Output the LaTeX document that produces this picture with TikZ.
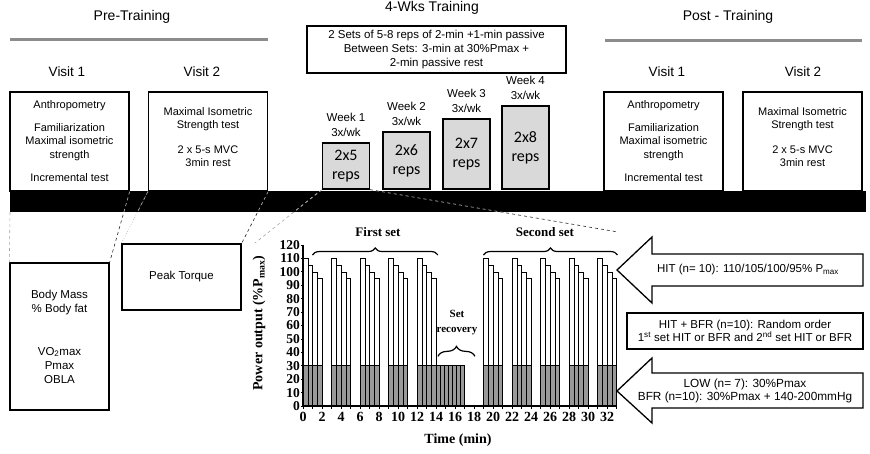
\documentclass[tikz,border=0pt]{standalone}
\usepackage{fontspec}
\setmainfont{Liberation Sans}
\newfontfamily\chartfont{Liberation Serif}
\newfontfamily\weekfont{Carlito}
\usetikzlibrary{decorations.pathreplacing}

\tikzset{
  visitbox/.style={draw, line width=1.3pt, minimum width=119pt, minimum height=99pt,
    align=center, inner sep=0pt, font=\fontsize{11}{13.5}\selectfont},
  weekbox/.style={draw, line width=1.3pt, fill=black!15, minimum width=47pt,
    align=center, inner sep=0pt, font=\weekfont\fontsize{16}{19}\selectfont},
  weeklabel/.style={align=center, font=\fontsize{11.5}{14.5}\selectfont},
  phase/.style={font=\fontsize{14}{16}\selectfont},
  visit/.style={font=\fontsize{13.5}{16}\selectfont},
  phaseline/.style={draw=black!45, line width=3pt},
  zoomdark/.style={dashed, line width=0.6pt, black!85},
  zoomlight/.style={dashed, line width=0.6pt, black!35},
  topbar/.style={draw=black, line width=0.5pt, fill=white},
  lowbar/.style={draw=black, line width=0.5pt, fill=black!40},
  axislabel/.style={font=\chartfont\bfseries\fontsize{14}{15}\selectfont},
  ticklabel/.style={font=\chartfont\bfseries\fontsize{13.5}{13.5}\selectfont, inner sep=1pt},
  setbrace/.style={decorate, decoration={brace, amplitude=#1}, line width=1.2pt},
  armtext/.style={align=center, font=\fontsize{11.5}{13}\selectfont},
  arm/.style={draw, line width=1.3pt, fill=white}
}

\begin{document}
\begin{tikzpicture}[x=1pt, y=-1pt]
\useasboundingbox (0,0) rectangle (870,453);

% phases
\node[phase] (pretitle) at (132,17) {Pre-Training};
\node[phase] (traintitle) at (432,8) {4-Wks Training};
\node[phase] (posttitle) at (728,17) {Post - Training};
\draw[phaseline] (10,39) -- (268,39);
\draw[phaseline] (605,40) -- (862,40);

% visits
\node[visit] (v1prelabel) at (67,72) {Visit 1};
\node[visit] (v2prelabel) at (202,72) {Visit 2};
\node[visit] (v1postlabel) at (667,72) {Visit 1};
\node[visit] (v2postlabel) at (803,72) {Visit 2};

\node[visitbox] (v1pre) at (69.5,141.5) {Anthropometry\\[9pt]Familiarization\\Maximal isometric\\strength\\[10pt]Incremental test};
\node[visitbox] (v2pre) at (208,141.5) {Maximal Isometric\\Strength test\\[11pt]2 x 5-s MVC\\3min rest\\[-4.5pt]};
\node[visitbox] (v1post) at (663.5,141.5) {Anthropometry\\[9pt]Familiarization\\Maximal isometric\\strength\\[10pt]Incremental test};
\node[visitbox] (v2post) at (802.5,141.5) {Maximal Isometric\\Strength test\\[11pt]2 x 5-s MVC\\3min rest\\[-4.5pt]};

% training
\node[draw, line width=1.3pt, minimum width=259pt, minimum height=47pt, align=center,
  inner sep=0pt, font=\fontsize{11.5}{14}\selectfont] (protocol) at (436.5,49.5)
  {2 Sets of 5-8 reps of 2-min +1-min passive\\Between Sets: 3-min at 30\%Pmax +\\2-min passive rest};

\node[weekbox, minimum height=46pt] (week1) at (346,166) {2x5\\reps};
\node[weekbox, minimum height=57pt] (week2) at (406.5,160.5) {2x6\\reps};
\node[weekbox, minimum height=70pt] (week3) at (466.5,154) {2x7\\reps};
\node[weekbox, minimum height=83pt] (week4) at (525.5,147.5) {2x8\\reps};
\node[weeklabel] (week1label) at (346,125) {Week 1\\3x/wk};
\node[weeklabel] (week2label) at (406.5,114) {Week 2\\3x/wk};
\node[weeklabel] (week3label) at (466.5,101) {Week 3\\3x/wk};
\node[weeklabel] (week4label) at (525.5,88) {Week 4\\3x/wk};

% time line
\node[fill=black, minimum width=856pt, minimum height=21pt, inner sep=0pt, outer sep=0pt] (timeline) at (438,201.5) {};

% tests
\node[draw, line width=1.3pt, minimum width=99pt, minimum height=147pt, align=center,
  inner sep=0pt, font=\fontsize{11.5}{14}\selectfont] (body) at (59.5,336.5)
  {Body Mass\\\% Body fat\\[29pt]VO\textsubscript{2}max\\Pmax\\OBLA};
\node[draw, line width=1.3pt, minimum width=119pt, minimum height=66pt, inner sep=0pt,
  font=\fontsize{11.5}{14}\selectfont] (torque) at (181.5,277) {Peak Torque};

\coordinate (chartnw) at (255,243);
\coordinate (chartne) at (618,232);

\draw[zoomlight] (timeline.south west) -- (body.north west);
\draw[zoomdark] (v1pre.south east) -- (body.north east);
\draw[zoomlight, dotted] (v2pre.south west) -- (torque.north west);
\draw[zoomdark] (v2pre.south east) -- (torque.north east);
\draw[zoomlight] (week1.south west) -- (chartnw);
\draw[zoomdark] (week1.south east) -- (chartne);
\begin{scope}
  \clip (timeline.south west) rectangle (timeline.north east);
  \draw[zoomlight, black!30] (v1pre.south east) -- (body.north east);
  \draw[zoomlight, black!30] (v2pre.south west) -- (torque.north west);
  \draw[zoomlight, black!30] (v2pre.south east) -- (torque.north east);
  \draw[zoomlight, black!30] (week1.south west) -- (chartnw);
  \draw[zoomlight, black!30] (week1.south east) -- (chartne);
\end{scope}

% chart
\begin{scope}[shift={(303pt,-406pt)}, x=9.5pt, y=1.342pt]
  \foreach \s in {0,3,6,9,12,19,22,25,28,31}{
    \foreach \h [count=\i from 0] in {110,105,100,95}{
      \draw[topbar] (\s+0.5*\i,30) rectangle (\s+0.5*\i+0.5,\h);
      \draw[lowbar] (\s+0.5*\i,0) rectangle (\s+0.5*\i+0.5,30);
    }
  }
  \foreach \k in {0,...,6}
    \draw[lowbar] (14+3/7*\k,0) rectangle (14+3/7*\k+3/7,30);
  \draw[line width=1.2pt] (0,120) -- (0,0) -- (33,0);
  \foreach \v in {0,10,...,120}{
    \draw[line width=0.8pt] (0,\v) -- ++(-2pt,0);
    \node[ticklabel, anchor=east] (ytick\v) at ([xshift=-2pt]0,\v) {\v};
  }
  \foreach \t in {0,...,33}
    \draw[line width=0.8pt] (\t,0) -- ++(0,-3pt);
  \foreach \t in {0,2,...,32}
    \node[ticklabel, font=\chartfont\bfseries\fontsize{14}{14}\selectfont, anchor=north] (xtick\t) at ([yshift=-5pt]\t,0) {\t};
  \draw[setbrace=7pt] (1,112.5) -- (14.2,112.5);
  \draw[setbrace=7pt] (19,112.5) -- (33.1,112.5);
  \draw[setbrace=10pt] (14.2,37) -- (18.1,37);
\end{scope}
\node[axislabel, rotate=90] (ylabel) at (259,323) {Power output (\%P\textsubscript{max})};
\node[axislabel] (xlabel) at (458,440) {Time (min)};
\node[axislabel, font=\chartfont\bfseries\fontsize{13}{15}\selectfont] (firstset) at (378,232) {First set};
\node[axislabel, font=\chartfont\bfseries\fontsize{13}{15}\selectfont] (secondset) at (545,232) {Second set};
\node[axislabel, font=\chartfont\bfseries\fontsize{11}{15}\selectfont, align=center] (recovery) at (457,322.5) {Set\\recovery};

% groups
\draw[arm] (617,270) -- (652,237) -- (652,254) -- (863,254) -- (863,286) -- (652,286) -- (652,303) -- cycle;
\node[armtext] (hit) at (748,270) {HIT (n= 10): 110/105/100/95\% P\textsubscript{max}};
\node[draw, line width=2pt, minimum width=236pt, minimum height=36pt, inner sep=0pt,
  armtext] (hitbfr) at (745,331)
  {HIT + BFR (n=10): Random order\\1\textsuperscript{st} set HIT or BFR and 2\textsuperscript{nd} set HIT or BFR};
\draw[arm] (617,391) -- (652,358) -- (652,373) -- (863,373) -- (863,408) -- (652,408) -- (652,423) -- cycle;
\node[armtext, font=\fontsize{11.8}{13}\selectfont] (low) at (745,391) {LOW (n= 7): 30\%Pmax\\BFR (n=10): 30\%Pmax + 140-200mmHg};
\end{tikzpicture}
\end{document}
